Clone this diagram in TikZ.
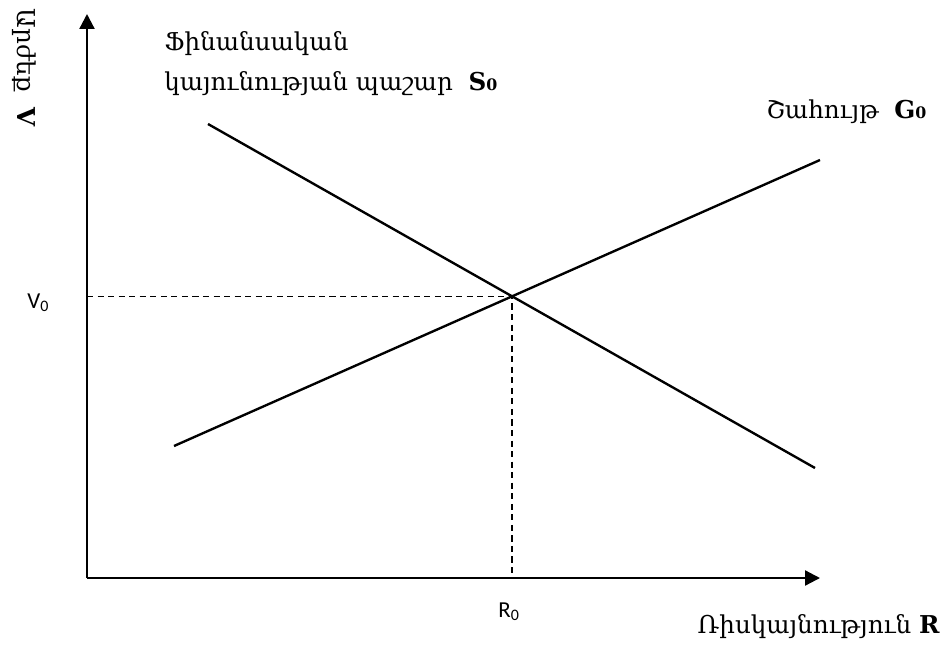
\documentclass[tikz,border=0pt]{standalone}
\usepackage{fontspec}
\setmainfont{DejaVu Serif}
\newfontfamily\calfont{Carlito}
\usetikzlibrary{positioning,arrows.meta}

\begin{document}
\begin{tikzpicture}[
    x=0.02cm, y=-0.02cm,
    every node/.style={font=\fontsize{14}{22.7}\selectfont, inner sep=0pt},
    axis/.style={line width=1.3pt, -{Triangle[length=8.5pt, width=8.5pt]}},
    curve/.style={line width=1.35pt},
    guide/.style={line width=0.75pt, dash pattern=on 3.5pt off 2.5pt},
    tag/.style={font=\calfont\fontsize{13}{15}\selectfont}
  ]
  \useasboundingbox (0,0) rectangle (943,646);
  % axes
  \coordinate (O) at (87,578);
  \coordinate (ytop) at (87,14);
  \coordinate (xend) at (820,578);
  \draw[axis] (O) -- (ytop);
  \draw[axis] (O) -- (xend);
  % supply and profit lines
  \coordinate (s1) at (208,124);
  \coordinate (s2) at (815,468);
  \coordinate (g1) at (174,446);
  \coordinate (g2) at (820,160);
  \draw[curve] (s1) -- (s2);
  \draw[curve] (g1) -- (g2);
  % equilibrium point
  \coordinate (E) at (intersection of s1--s2 and g1--g2);
  \coordinate (Ey) at (O |- E);
  \coordinate (Ex) at (E |- O);
  \draw[guide] (Ey) -- (E) -- (Ex);
  % labels
  \node[tag, anchor=base west] (v0) at (27,308) {V\textsubscript{0}};
  \node[tag, anchor=base west] (r0) at (498,617) {R\textsubscript{0}};
  \node[anchor=base west, align=left] (stock) at (164,90)
       {Ֆինանսական\\կայունության պաշար \ \textbf{S{\small 0}}};
  \node[anchor=base west] (profit) at (766,118) {Շահույթ \ \textbf{G{\small 0}}};
  \node[anchor=base east] (risk) at (940,633) {Ռիսկայնություն \textbf{R}};
  \node[rotate=-90, anchor=west] (value) at (24,8) {Արժեք \ \textbf{V}};
\end{tikzpicture}
\end{document}
